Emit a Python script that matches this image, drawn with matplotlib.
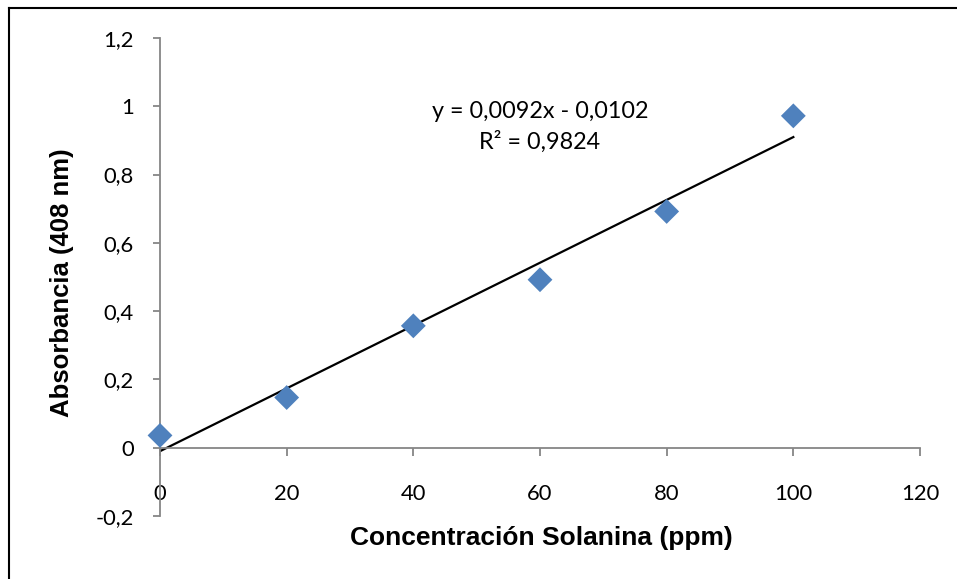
import matplotlib
matplotlib.use("Agg")
import matplotlib.pyplot as plt
from matplotlib.lines import Line2D
from matplotlib.ticker import FuncFormatter

# Calibration data: solanine concentration vs absorbance at 408 nm
concentration_ppm = [0, 20, 40, 60, 80, 100]
absorbance = [0.036, 0.147, 0.357, 0.492, 0.692, 0.972]

# Linear fit as reported
slope = 0.0092
intercept = -0.0102
r_squared = 0.9824

x_ticks = [0, 20, 40, 60, 80, 100, 120]
y_ticks = [-0.2, 0, 0.2, 0.4, 0.6, 0.8, 1.0, 1.2]

axis_grey = "#868686"
marker_blue = "#4F81BD"

fig = plt.figure(figsize=(9.57, 5.79), dpi=100)
ax = fig.add_axes([160 / 957, 63 / 579, 760 / 957, 478 / 579])

ax.scatter(concentration_ppm, absorbance, marker="D", s=160, color=marker_blue,
           edgecolors="none", zorder=3, clip_on=False)

fit_x = [concentration_ppm[0], concentration_ppm[-1]]
fit_y = [slope * v + intercept for v in fit_x]
ax.plot(fit_x, fit_y, color="black", lw=1.6, zorder=2)

ax.set_xlim(0, 120)
ax.set_ylim(-0.2, 1.2)

# Excel-style axes: y axis at x=0, x axis at y=0
for side in ("top", "right"):
    ax.spines[side].set_visible(False)
ax.spines["left"].set_position(("data", 0))
ax.spines["bottom"].set_position(("data", 0))
for side in ("left", "bottom"):
    ax.spines[side].set_color(axis_grey)
    ax.spines[side].set_linewidth(1.3)

ax.set_xticks(x_ticks)
ax.set_yticks(y_ticks)

def comma_fmt(v, _pos):
    s = f"{v:g}"
    if s == "-0":
        s = "0"
    return s.replace(".", ",")

ax.xaxis.set_major_formatter(FuncFormatter(comma_fmt))
ax.yaxis.set_major_formatter(FuncFormatter(comma_fmt))

ax.tick_params(axis="y", direction="out", length=5, width=1.3, color=axis_grey,
               pad=14, labelsize=15.8)
ax.tick_params(axis="x", direction="out", length=6, width=1.3, color=axis_grey,
               pad=20, labelsize=15.8)
for lab in ax.get_xticklabels() + ax.get_yticklabels():
    lab.set_fontfamily("Lato")

# Axis titles
fig.text(541 / 957, 1 - 538 / 579, "Concentración Solanina (ppm)", fontsize=19,
         fontweight="bold", family="Liberation Sans", ha="center", va="center")
fig.text(62 / 957, 1 - 283 / 579, "Absorbancia (408 nm)", fontsize=18.5,
         fontweight="bold", family="Liberation Sans", ha="center", va="center",
         rotation=90)

eq_text = (f"y = {slope:.4f}x - {abs(intercept):.4f}".replace(".", ",")
           + "\n" + f"R² = {r_squared:.4f}".replace(".", ","))
fig.text(540 / 957, 1 - 127 / 579, eq_text, ha="center", va="center",
         fontsize=16.8, family="Lato", linespacing=1.5)

# Chart frame
fig.add_artist(Line2D([8.5 / 957, 8.5 / 957], [0, 1 - 7.5 / 579],
                      transform=fig.transFigure, color="black", lw=1.5))
fig.add_artist(Line2D([8.5 / 957, 1], [1 - 7.5 / 579, 1 - 7.5 / 579],
                      transform=fig.transFigure, color="black", lw=1.5))

fig.savefig("out.png", dpi=100)
